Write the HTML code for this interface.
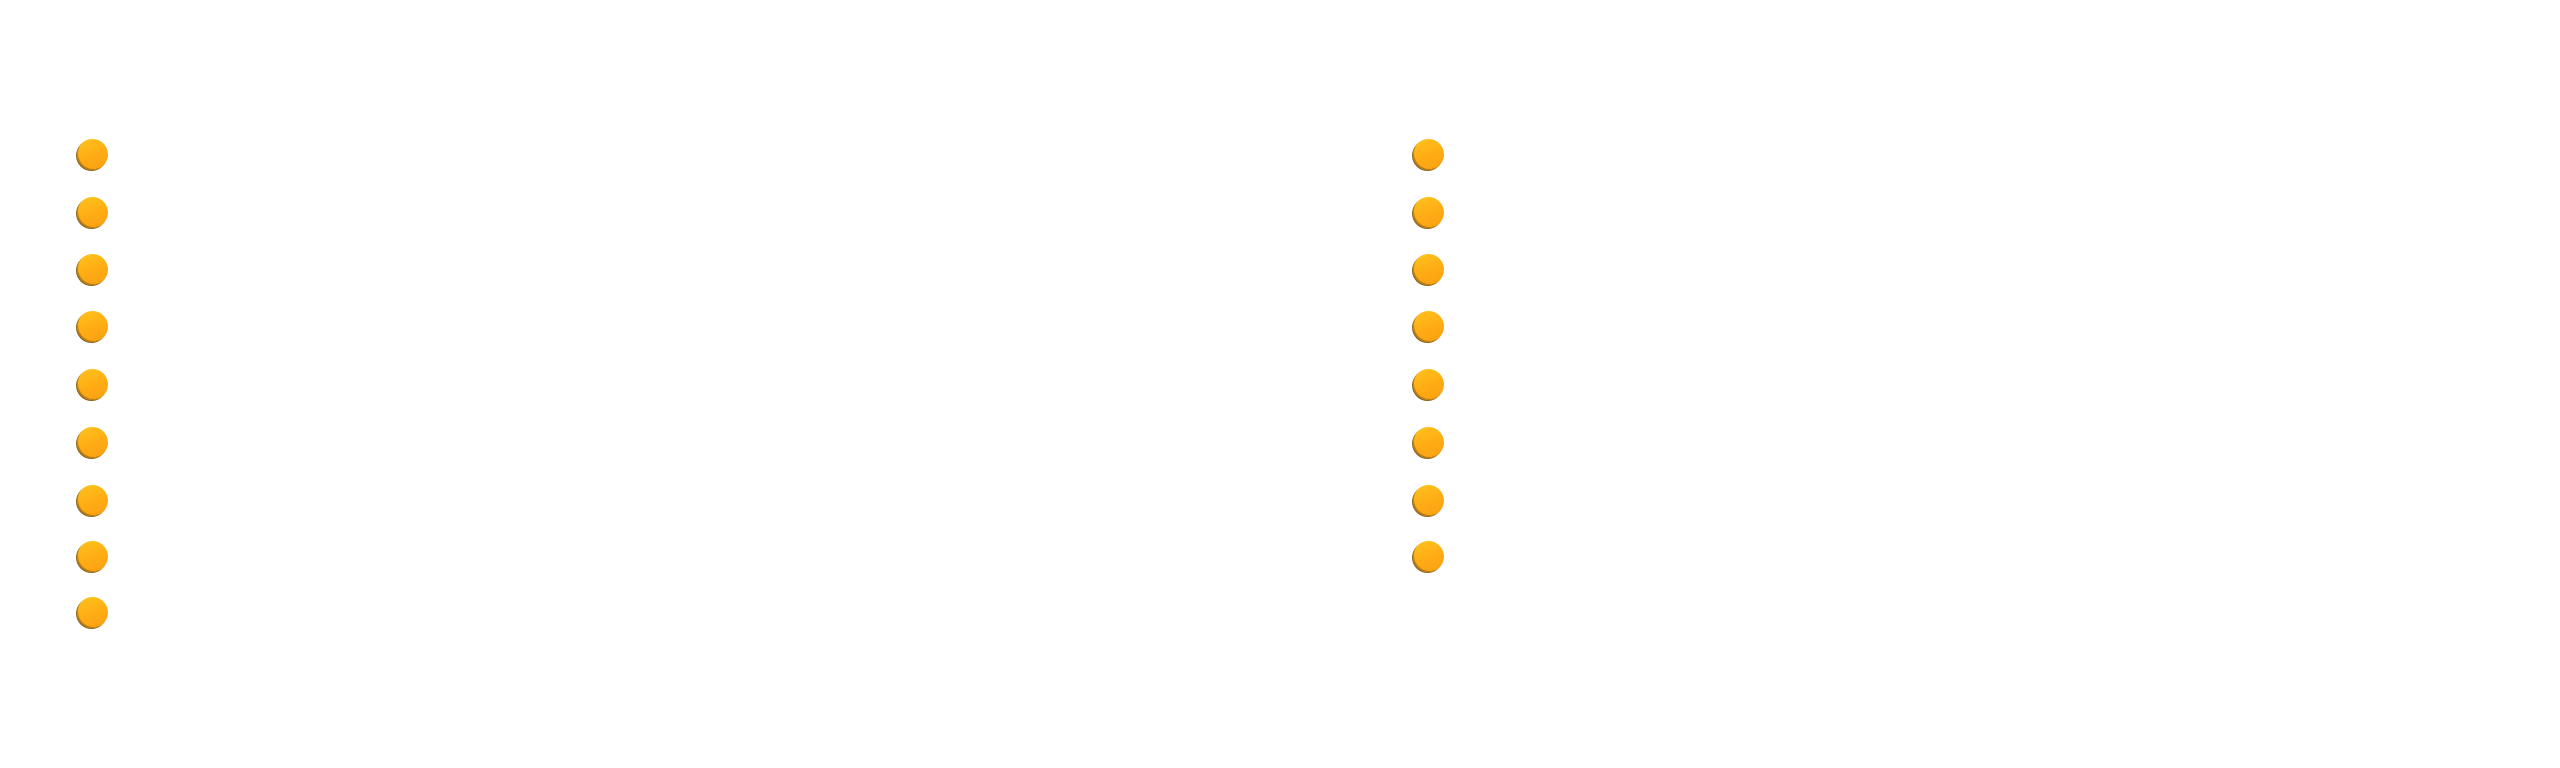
<!DOCTYPE html>
<html><head><meta charset="utf-8"><style>
html,body{margin:0;padding:0;background:#fff;width:2560px;height:768px;overflow:hidden;position:relative}
.d{position:absolute;width:31px;height:31px;border-radius:50%;background:linear-gradient(160deg,#ffc41c,#ffab14 55%,#f8a012);box-shadow:inset 1px -1px 0 rgba(120,80,10,0.5),-1px 1px 0 #8a6418;}
</style></head><body>
<div class="d" style="left:77px;top:139px"></div>
<div class="d" style="left:77px;top:197px"></div>
<div class="d" style="left:77px;top:254px"></div>
<div class="d" style="left:77px;top:311px"></div>
<div class="d" style="left:77px;top:369px"></div>
<div class="d" style="left:77px;top:427px"></div>
<div class="d" style="left:77px;top:485px"></div>
<div class="d" style="left:77px;top:541px"></div>
<div class="d" style="left:77px;top:597px"></div>
<div class="d" style="left:1413px;top:139px"></div>
<div class="d" style="left:1413px;top:197px"></div>
<div class="d" style="left:1413px;top:254px"></div>
<div class="d" style="left:1413px;top:311px"></div>
<div class="d" style="left:1413px;top:369px"></div>
<div class="d" style="left:1413px;top:427px"></div>
<div class="d" style="left:1413px;top:485px"></div>
<div class="d" style="left:1413px;top:541px"></div>
</body></html>
